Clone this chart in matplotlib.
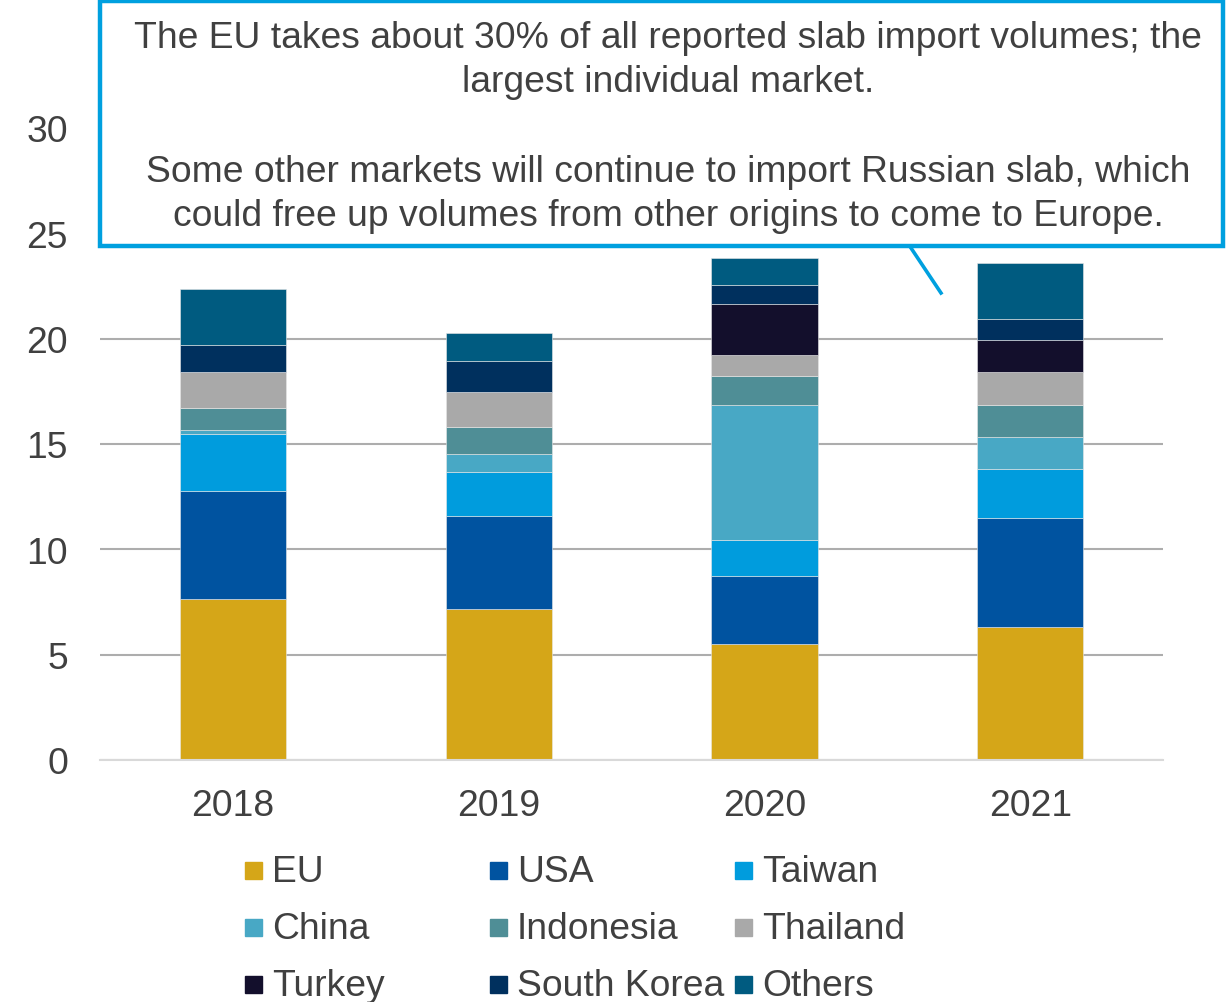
import matplotlib.pyplot as plt
from matplotlib.patches import Rectangle
from matplotlib.lines import Line2D
import numpy as np

plt.rcParams['font.family'] = ['Liberation Sans', 'DejaVu Sans']

years = ["2018", "2019", "2020", "2021"]
series = ["EU", "USA", "Taiwan", "China", "Indonesia", "Thailand",
          "Turkey", "South Korea", "Others"]
colors = ["#D5A618", "#0053A0", "#009CDD", "#48A8C5", "#4F8E96",
          "#A9A9A9", "#130F2C", "#00305E", "#005B80"]

# million tonnes per year, stacked in this order
eu = [7.62, 7.16, 5.51, 6.33]
usa = [5.17, 4.42, 3.20, 5.15]
taiwan = [2.70, 2.07, 1.71, 2.31]
china = [0.15, 0.89, 6.44, 1.54]
indonesia = [1.07, 1.26, 1.37, 1.50]
thailand = [1.71, 1.67, 1.01, 1.59]
turkey = [0.0, 0.0, 2.40, 1.53]
south_korea = [1.26, 1.47, 0.89, 0.97]
others = [2.69, 1.35, 1.32, 2.69]
values = [eu, usa, taiwan, china, indonesia, thailand, turkey, south_korea, others]

text_color = "#404040"
fs = 26.8

fig = plt.figure(figsize=(12.27, 10.03), dpi=100)
ax = fig.add_axes([0.0815, 0.2413, 0.8665, 0.6301])

x = np.arange(len(years))
bottom = np.zeros(len(years))
for name, vals, c in zip(series, values, colors):
    ax.bar(x, vals, width=0.4, bottom=bottom, color=c, edgecolor="#E8E8E8",
           linewidth=0.4, label=name, zorder=3)
    bottom += np.array(vals)

ax.set_xlim(-0.5, 3.5)
ax.set_ylim(0, 30)
ax.set_yticks([0, 5, 10, 15, 20, 25, 30])
ax.set_xticks(x)
ax.set_xticklabels(years)
ax.tick_params(axis="both", length=0, labelsize=fs, colors=text_color)
ax.tick_params(axis="y", pad=23)
ax.tick_params(axis="x", pad=20)
ax.yaxis.grid(True, color="#ADADAD", linewidth=1.5, zorder=0)
ax.set_axisbelow(True)
for s in ["top", "right", "left"]:
    ax.spines[s].set_visible(False)
ax.spines["bottom"].set_color("#D9D9D9")
ax.spines["bottom"].set_linewidth(1.5)
ax.spines["bottom"].set_zorder(4)

# legend, laid out row by row in three fixed columns
W, H = 1227, 1003
col_x = [245, 490, 735]
row_y = [871, 928, 985]
sq = 17
for i, (name, c) in enumerate(zip(series, colors)):
    cx = col_x[i % 3]
    cy = row_y[i // 3]
    fig.patches.append(Rectangle((cx / W, 1 - (cy + sq / 2) / H), sq / W, sq / H,
                                 transform=fig.transFigure, color=c))
    fig.text((cx + 27) / W, 1 - (cy + 2) / H, name, fontsize=fs, color=text_color,
             va="center", ha="left")

# callout box with pointer
fig.patches.append(Rectangle((100 / W, 1 - 247 / H), 1123 / W, 245 / H,
                             transform=fig.transFigure, facecolor="white",
                             edgecolor="#00A0DF", linewidth=3.2, zorder=5))
fig.lines.append(Line2D([911 / W, 941 / W], [1 - 249 / H, 1 - 294 / H],
                        transform=fig.transFigure, color="#00A0DF",
                        linewidth=2.6, zorder=5))
callout = [
    "The EU takes about 30% of all reported slab import volumes; the",
    "largest individual market.",
    "Some other markets will continue to import Russian slab, which",
    "could free up volumes from other origins to come to Europe.",
]
for line, ypx in zip(callout, [39, 83, 173, 217]):
    fig.text(668 / W, 1 - ypx / H, line, fontsize=fs, color=text_color,
             ha="center", va="center", zorder=6)

fig.savefig("out.png", dpi=100)
